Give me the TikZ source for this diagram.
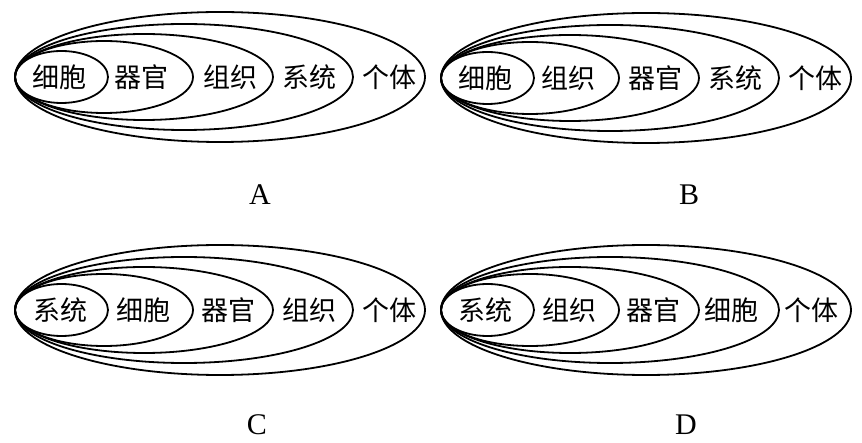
\documentclass[tikz,border=0pt]{standalone}
\usepackage{fontspec}
\setmainfont{Liberation Serif}
\newfontfamily\cjk{Noto Sans CJK SC}
\usepackage{tikz}

\begin{document}
\begin{tikzpicture}[x=1pt, y=-1pt,
    % Shape styles
    ring/.style={draw=black, line width=1.8pt},
    word/.style={font=\cjk\fontsize{27}{27}\selectfont, inner sep=0pt},
    tag/.style={font=\fontsize{30}{30}\selectfont, inner sep=0pt}
]
\useasboundingbox (0,0) rectangle (862,443);

% Panel A
\draw[ring] (61.5,77) ellipse (46.5 and 26);
\draw[ring] (104,77) ellipse (89 and 36);
\draw[ring] (144,77) ellipse (129 and 43);
\draw[ring] (184,77) ellipse (169 and 53);
\draw[ring] (220,77) ellipse (205 and 65);
\node[word] (a1) at (59.5,77) {细胞};
\node[word] (a2) at (141,77) {器官};
\node[word] (a3) at (230,77) {组织};
\node[word] (a4) at (309.5,77) {系统};
\node[word] (a5) at (389,77) {个体};
\node[tag] (labA) at (260,195) {A};

% Panel B
\draw[ring] (487.5,78) ellipse (46.5 and 26);
\draw[ring] (530,78) ellipse (89 and 36);
\draw[ring] (570,78) ellipse (129 and 43);
\draw[ring] (610,78) ellipse (169 and 53);
\draw[ring] (646,78) ellipse (205 and 65);
\node[word] (b1) at (485.5,78) {细胞};
\node[word] (b2) at (568,78) {组织};
\node[word] (b3) at (655,78) {器官};
\node[word] (b4) at (735.5,78) {系统};
\node[word] (b5) at (815,78) {个体};
\node[tag] (labB) at (689,195) {B};

% Panel C
\draw[ring] (61.5,310) ellipse (46.5 and 26);
\draw[ring] (104,310) ellipse (89 and 36);
\draw[ring] (144,310) ellipse (129 and 43);
\draw[ring] (184,310) ellipse (169 and 53);
\draw[ring] (220,310) ellipse (205 and 65);
\node[word] (c1) at (60,310) {系统};
\node[word] (c2) at (143,310) {细胞};
\node[word] (c3) at (228,310) {器官};
\node[word] (c4) at (309,310) {组织};
\node[word] (c5) at (389,310) {个体};
\node[tag] (labC) at (257,425) {C};

% Panel D
\draw[ring] (487.5,310) ellipse (46.5 and 26);
\draw[ring] (530,310) ellipse (89 and 36);
\draw[ring] (570,310) ellipse (129 and 43);
\draw[ring] (610,310) ellipse (169 and 53);
\draw[ring] (646,310) ellipse (205 and 65);
\node[word] (d1) at (485.5,310) {系统};
\node[word] (d2) at (569.5,310) {组织};
\node[word] (d3) at (653.5,310) {器官};
\node[word] (d4) at (731,310) {细胞};
\node[word] (d5) at (811.5,310) {个体};
\node[tag] (labD) at (686,425) {D};

\end{tikzpicture}
\end{document}
